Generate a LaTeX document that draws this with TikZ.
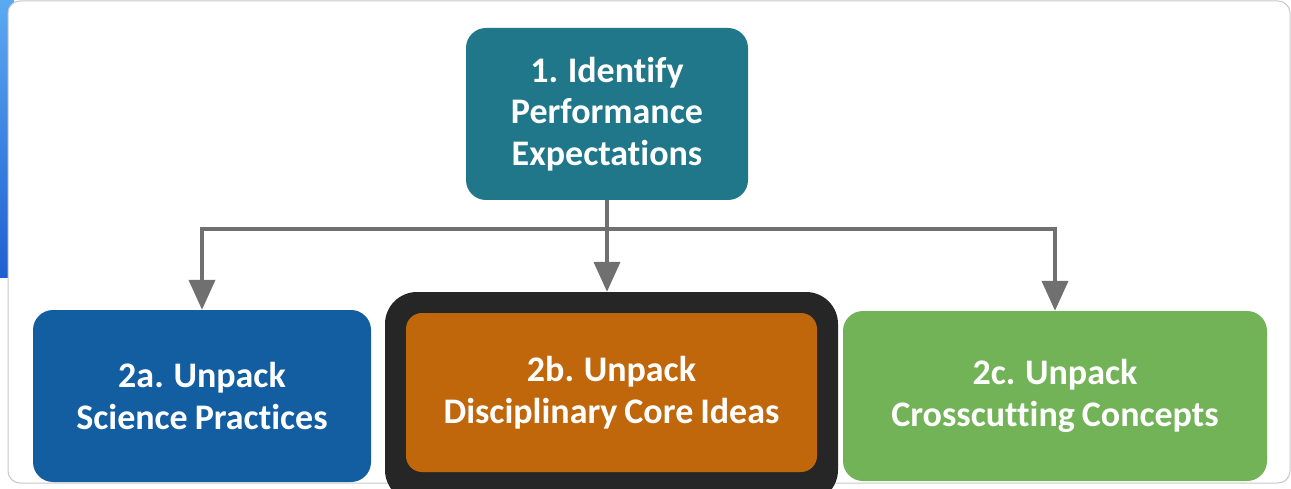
\documentclass[tikz,border=0pt]{standalone}
\usepackage{fontspec}
\setmainfont{Carlito}[Ligatures={NoCommon}, WordSpace=0.85]
\usetikzlibrary{arrows.meta}
\definecolor{tealbox}{HTML}{1F7789}
\definecolor{bluebox}{HTML}{135DA1}
\definecolor{orangebox}{HTML}{C0660B}
\definecolor{greenbox}{HTML}{71B356}
\definecolor{darkframe}{HTML}{262626}
\definecolor{arrowgray}{HTML}{707070}
\definecolor{framegray}{HTML}{C8C8C8}
\definecolor{stripA}{HTML}{5AAAF2}
\definecolor{stripB}{HTML}{1F5FD0}
\begin{document}
\begin{tikzpicture}[x=1pt,y=-1pt,
  box/.style={rounded corners=20pt, text=white, align=center,
    font=\fontsize{36}{41.5}\selectfont\bfseries, inner sep=0pt},
  conn/.style={draw=arrowgray, line width=4pt},
  arr/.style={conn, -{Triangle[length=30pt,width=26pt]}}]
\useasboundingbox (0,0) rectangle (1291,489);
\clip (0,0) rectangle (1291,489);
\shade[top color=stripA, bottom color=stripB] (0,0) rectangle (14,278);
\draw[framegray, fill=white, rounded corners=12pt, line width=1pt] (8,1) rectangle (1290,483);
\node[box, fill=tealbox, minimum width=282pt, minimum height=172pt] (pe) at (607,114)
  {1. Identify\\Performance\\Expectations};
\node[box, fill=bluebox, minimum width=338pt, minimum height=172pt] (a2) at (202,396)
  {2a. Unpack\\Science Practices};
\node[fill=darkframe, rounded corners=32pt, minimum width=453pt, minimum height=210pt, inner sep=0pt] (b2f) at (611.5,397) {};
\node[box, rounded corners=16pt, fill=orangebox, minimum width=411pt, minimum height=159pt] (b2) at (611.5,392.5)
  {2b. Unpack\\Disciplinary Core Ideas};
\node[box, fill=greenbox, minimum width=424pt, minimum height=170pt] (c2) at (1055,396)
  {2c. Unpack\\Crosscutting Concepts};
\draw[arr] (pe.south) -- (pe.south |- b2f.north);
\draw[arr] (pe.south) ++(0,29) coordinate (j) -| (a2.north);
\draw[arr] (j) -| (c2.north);
\end{tikzpicture}
\end{document}
